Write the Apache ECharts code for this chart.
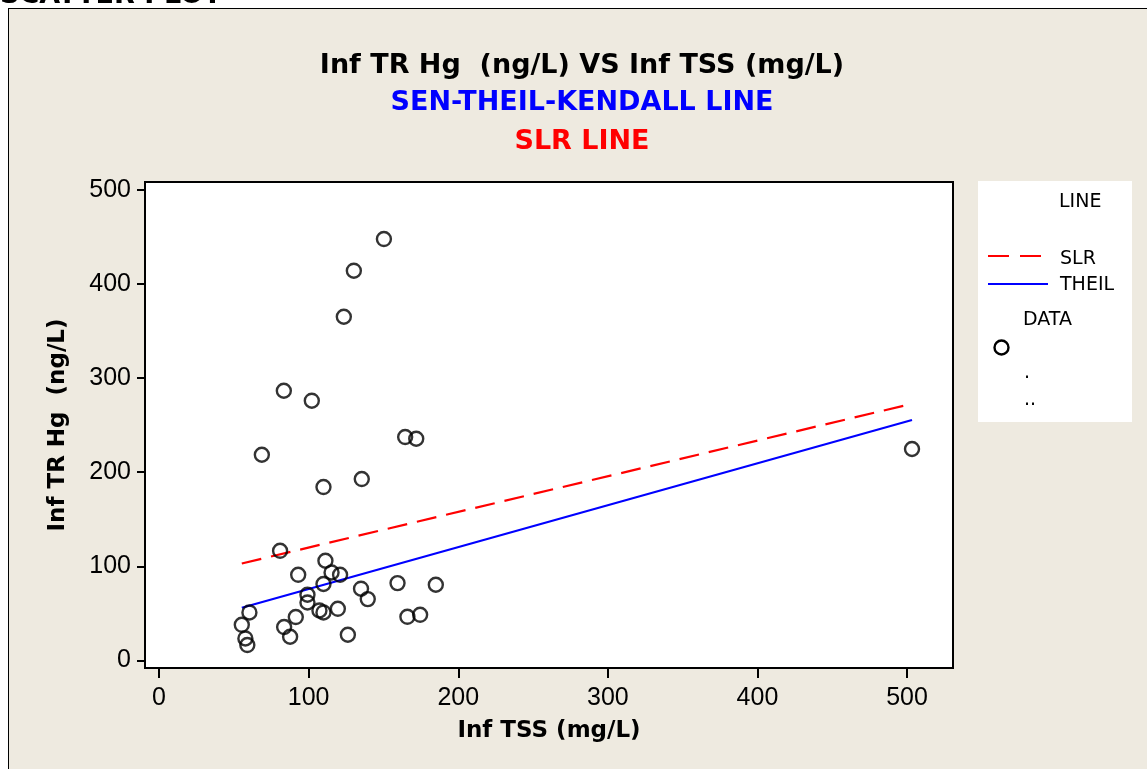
<!DOCTYPE html>
<html lang="en">
<head>
    <meta charset="UTF-8">
    <title>Scatter Plot</title>
    <script type="text/javascript" src="https://cdn.jsdelivr.net/npm/echarts@6/dist/echarts.min.js"></script>
    <style>
        html, body { margin: 0; padding: 0; background: #fff; overflow: hidden; }
        #frame { position: absolute; left: 8px; top: 8px; width: 1200px; height: 800px;
                 background: #eeeae0; border: 1px solid #000; }
        #main { position: absolute; left: 0; top: 0; width: 1147px; height: 769px; }
    </style>
</head>
<body>
<div id="frame"></div>
<div id="main"></div>

<script type="text/javascript">
    // Inf TSS (mg/L) / Inf TR Hg (ng/L)
    var tss = [150.3, 130.2, 123.5, 83.4, 102.1, 68.7, 164.5, 171.9, 109.9, 135.5,
               80.9, 111.2, 93.0, 115.3, 121.0, 109.9, 159.4, 185.0, 135.0, 139.5,
               99.2, 99.2, 60.4, 91.4, 107.2, 109.9, 119.5, 166.0, 174.5, 55.3,
               83.6, 57.7, 59.0, 87.6, 126.2, 503.3];
    var hg  = [447.6, 414.0, 365.1, 286.5, 275.9, 218.5, 237.3, 235.5, 184.2, 192.7,
               116.5, 105.9, 91.0, 93.5, 91.0, 81.2, 82.2, 80.4, 76.2, 65.2,
               69.8, 61.6, 51.0, 46.1, 53.1, 51.0, 54.9, 46.4, 48.5, 37.9,
               35.5, 23.4, 16.4, 25.2, 27.3, 224.6];

    // fitted lines, end points
    var slrX = [55.3, 503.3];
    var slrY = [103.0, 272.7];
    var theilX = [55.3, 503.3];
    var theilY = [56.0, 255.4];

    var xTicks = [0, 100, 200, 300, 400, 500];
    var yTicks = [0, 100, 200, 300, 400, 500];

    function pairs(a, b) {
        var out = [];
        for (var i = 0; i < a.length; i++) out.push([a[i], b[i]]);
        return out;
    }

    var boldFont = 'bold 27px "DejaVu Sans"';
    var legFont = '19px "DejaVu Sans"';

    var option = {
        backgroundColor: 'transparent',
        animation: false,
        grid: {
            left: 145, right: 194, top: 182, bottom: 101,
            show: true, backgroundColor: '#fff', borderColor: '#000', borderWidth: 2
        },
        xAxis: {
            type: 'value', min: -9.4, max: 530.7,
            name: 'Inf TSS (mg/L)', nameLocation: 'middle', nameGap: 52,
            nameTextStyle: { fontFamily: 'DejaVu Sans', fontWeight: 'bold', fontSize: 23, color: '#000' },
            splitLine: { show: false },
            axisLine: { show: true, onZero: false, lineStyle: { color: '#000', width: 2 } },
            axisTick: { show: true, customValues: xTicks, length: 10, lineStyle: { color: '#000', width: 2 } },
            axisLabel: { customValues: xTicks, margin: 18, fontFamily: 'Liberation Sans', fontSize: 25, color: '#000' }
        },
        yAxis: {
            type: 'value', min: -8, max: 508.2,
            name: 'Inf TR Hg  (ng/L)', nameLocation: 'middle', nameGap: 75,
            nameTextStyle: { fontFamily: 'DejaVu Sans', fontWeight: 'bold', fontSize: 23, color: '#000' },
            splitLine: { show: false },
            axisLine: { show: true, onZero: false, lineStyle: { color: '#000', width: 2 } },
            axisTick: { show: true, customValues: yTicks, length: 8, lineStyle: { color: '#000', width: 2 } },
            axisLabel: { customValues: yTicks, margin: 14, fontFamily: 'Liberation Sans', fontSize: 25, color: '#000' }
        },
        graphic: [
            { type: 'text', x: 0, y: -4, z: 10,
              style: { text: 'SCATTER PLOT', font: boldFont, fill: '#000', verticalAlign: 'middle' } },
            { type: 'text', x: 582, y: 66, style: { text: 'Inf TR Hg  (ng/L) VS Inf TSS (mg/L)', font: boldFont, fill: '#000', align: 'center', verticalAlign: 'middle' } },
            { type: 'text', x: 582, y: 103, style: { text: 'SEN-THEIL-KENDALL LINE', font: boldFont, fill: '#0000ff', align: 'center', verticalAlign: 'middle' } },
            { type: 'text', x: 582, y: 142, style: { text: 'SLR LINE', font: boldFont, fill: '#ff0000', align: 'center', verticalAlign: 'middle' } },
            // legend box
            { type: 'rect', shape: { x: 978, y: 181, width: 154, height: 241 }, style: { fill: '#fff' } },
            { type: 'text', x: 1059, y: 202, style: { text: 'LINE', font: legFont, fill: '#000', verticalAlign: 'middle' } },
            { type: 'line', shape: { x1: 988, y1: 256, x2: 1042, y2: 256 }, style: { stroke: '#ff0000', lineWidth: 2, lineDash: [21, 11] } },
            { type: 'text', x: 1060, y: 259, style: { text: 'SLR', font: legFont, fill: '#000', verticalAlign: 'middle' } },
            { type: 'line', shape: { x1: 988, y1: 284, x2: 1048, y2: 284 }, style: { stroke: '#0000ff', lineWidth: 2 } },
            { type: 'text', x: 1060, y: 285, style: { text: 'THEIL', font: legFont, fill: '#000', verticalAlign: 'middle' } },
            { type: 'text', x: 1023, y: 320, style: { text: 'DATA', font: legFont, fill: '#000', verticalAlign: 'middle' } },
            { type: 'circle', shape: { cx: 1001.5, cy: 347.5, r: 7 }, style: { fill: 'none', stroke: '#000', lineWidth: 2.4 } },
            { type: 'text', x: 1024, y: 373, style: { text: '.', font: legFont, fill: '#000', verticalAlign: 'middle' } },
            { type: 'text', x: 1024, y: 400, style: { text: '..', font: legFont, fill: '#000', verticalAlign: 'middle' } }
        ],
        series: [
            {
                name: 'SLR', type: 'line', showSymbol: false, data: pairs(slrX, slrY),
                lineStyle: { color: '#ff0000', width: 2.2, type: [20, 10] }, z: 3
            },
            {
                name: 'THEIL', type: 'line', showSymbol: false, data: pairs(theilX, theilY),
                lineStyle: { color: '#0000ff', width: 2.2 }, z: 3
            },
            {
                name: 'DATA', type: 'scatter', data: pairs(tss, hg),
                symbol: 'circle', symbolSize: 14,
                itemStyle: { color: 'transparent', borderColor: '#000', borderWidth: 2.4 }, z: 4
            }
        ]
    };

    var myChart = echarts.init(document.getElementById('main'));
    myChart.setOption(option);
</script>
</body>
</html>
